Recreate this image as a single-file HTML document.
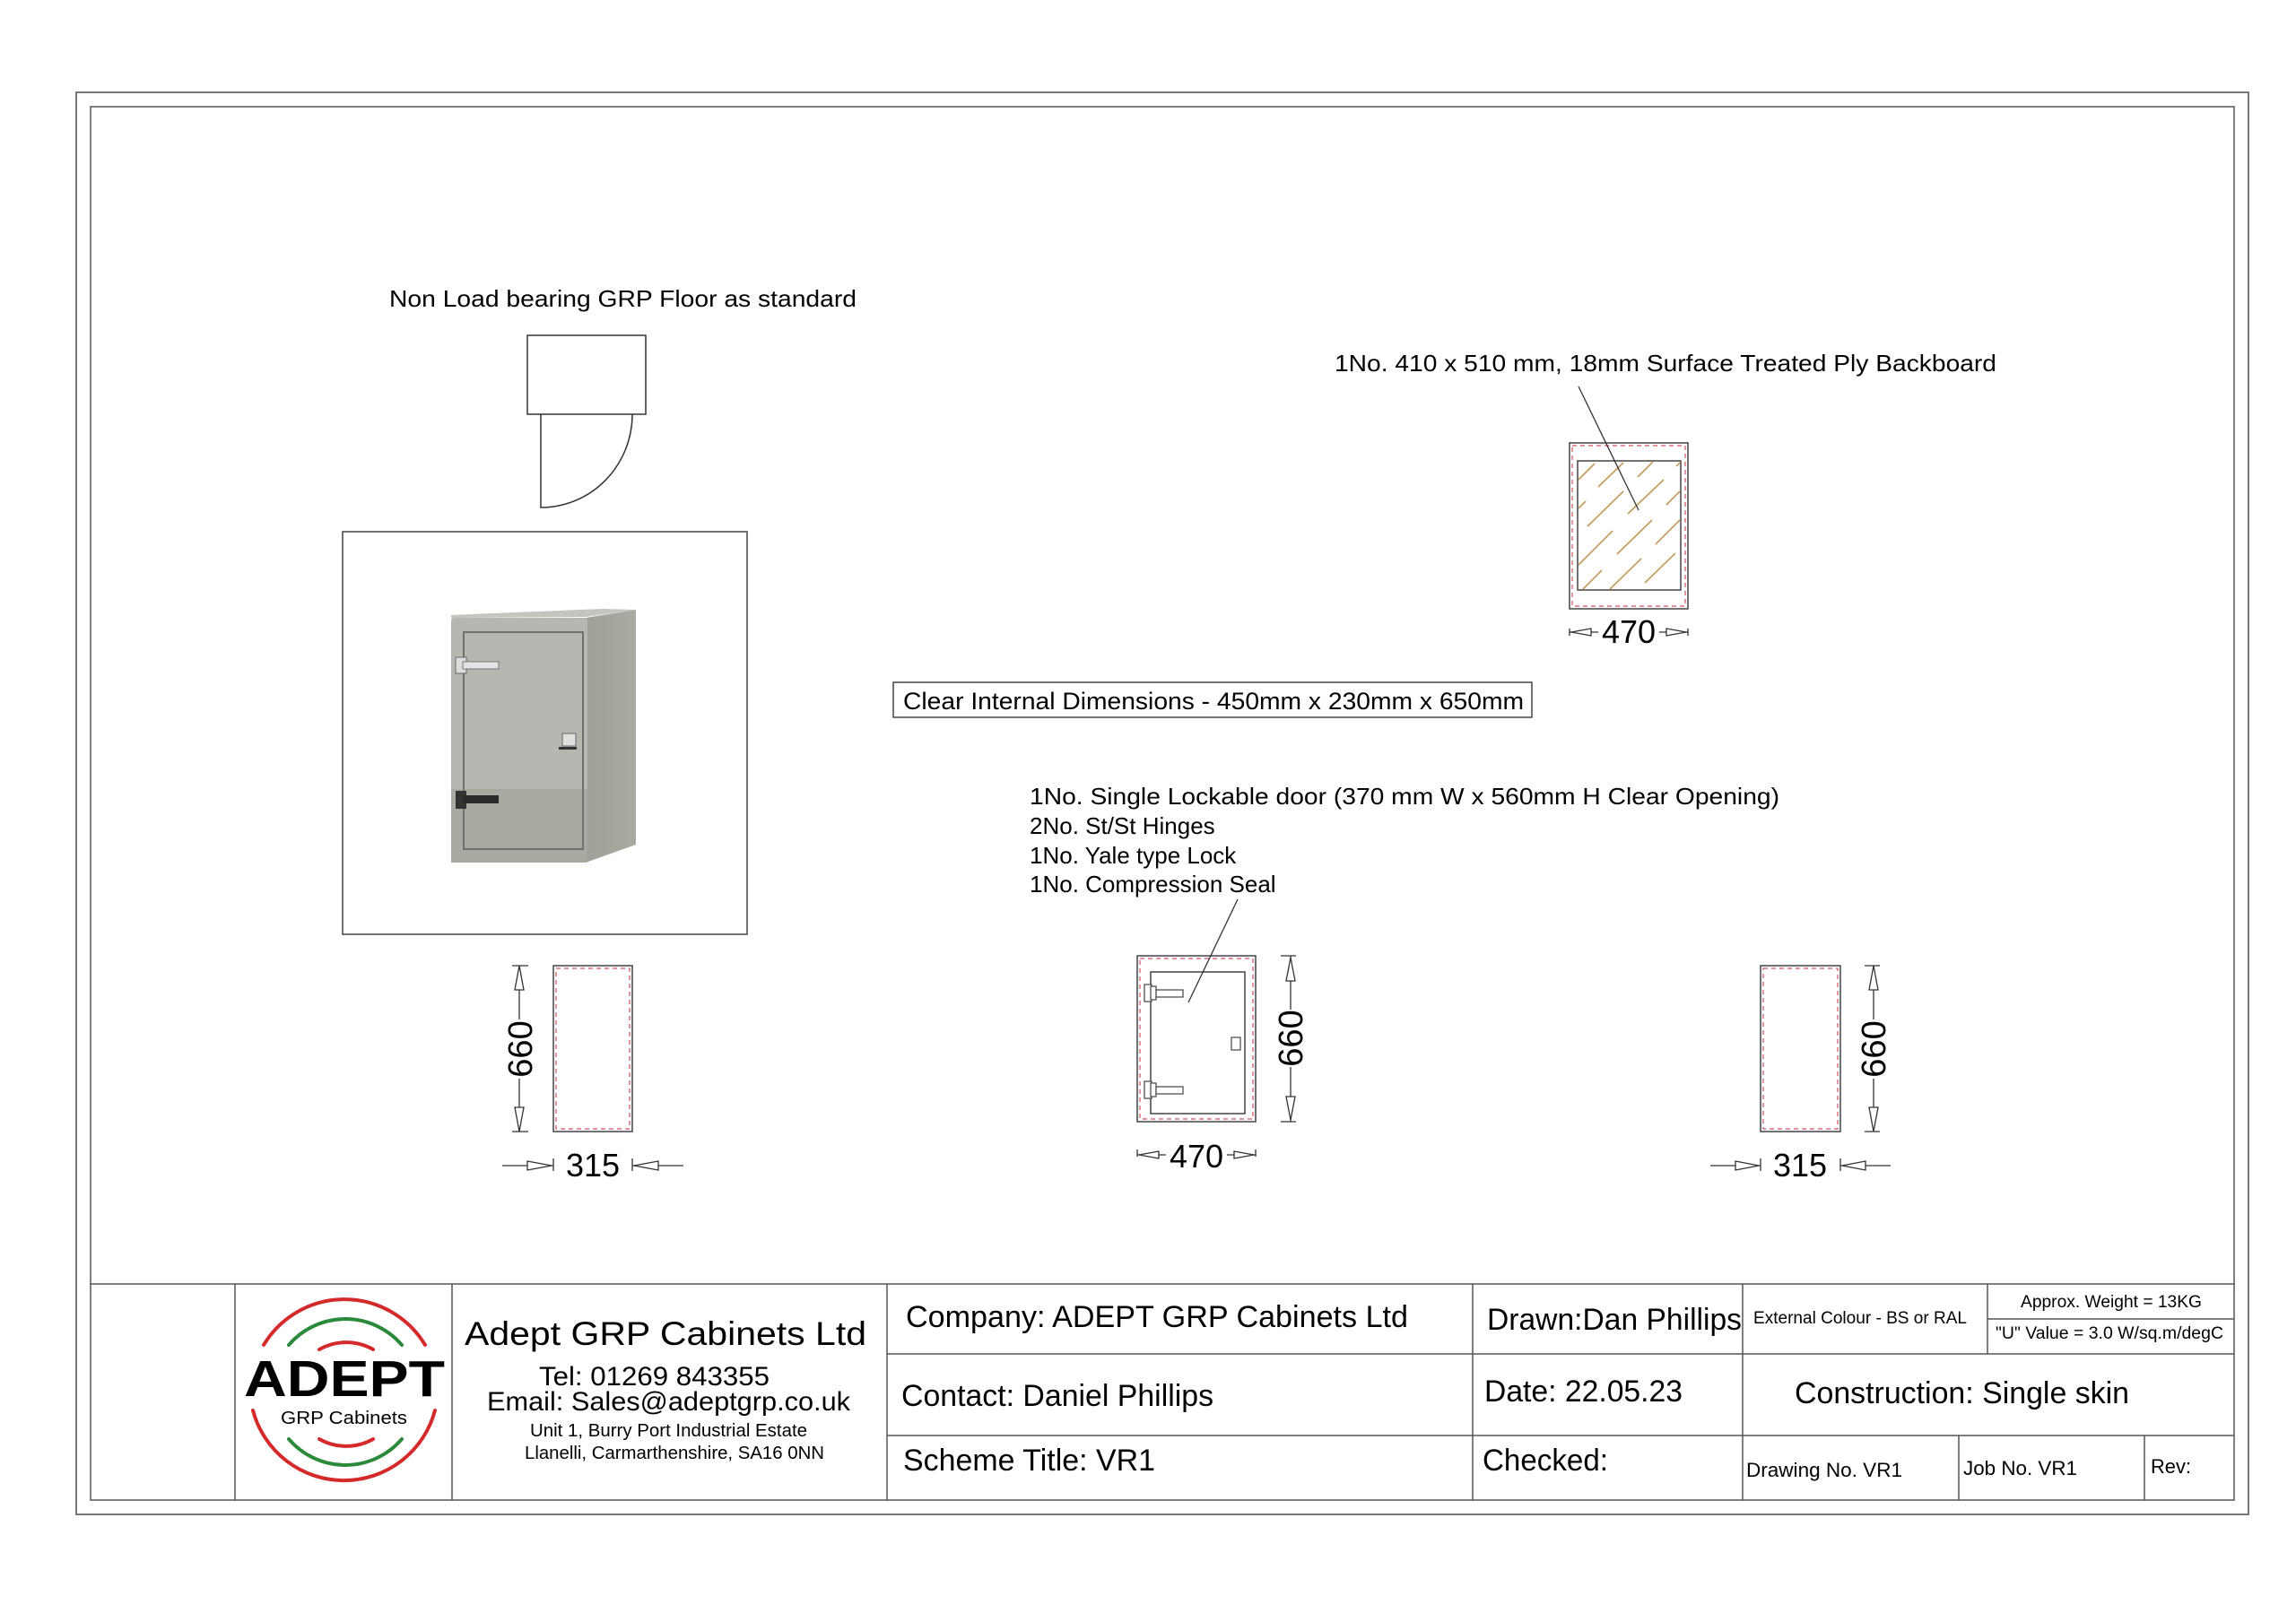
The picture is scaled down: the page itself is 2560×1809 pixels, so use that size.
<!DOCTYPE html>
<html><head><meta charset="utf-8"><style>
html,body{margin:0;padding:0;background:#fff;}
svg{display:block;}
text{font-family:"Liberation Sans",Arial,sans-serif;fill:#000;}
</style></head><body>
<svg width="2560" height="1809" viewBox="0 0 2560 1809" xmlns="http://www.w3.org/2000/svg">
<defs>
<linearGradient id="front" x1="0" y1="0" x2="0" y2="1">
<stop offset="0" stop-color="#b3b5ad"/><stop offset="0.6" stop-color="#b8bab3"/><stop offset="0.62" stop-color="#a9ab a3"/><stop offset="1" stop-color="#a6a89f"/>
</linearGradient>
<linearGradient id="side" x1="0" y1="0" x2="1" y2="0">
<stop offset="0" stop-color="#9fa199"/><stop offset="1" stop-color="#a9aba3"/>
</linearGradient>
</defs>
<!-- frames -->
<rect x="85" y="103" width="2422" height="1586" fill="none" stroke="#777" stroke-width="2"/>
<rect x="101" y="119" width="2390" height="1554" fill="none" stroke="#555" stroke-width="1.5"/>

<!-- title block lines -->
<g stroke="#555" stroke-width="1.5" fill="none">
<line x1="101" y1="1432" x2="2491" y2="1432"/>
<line x1="989" y1="1510" x2="2491" y2="1510"/>
<line x1="989" y1="1601" x2="2491" y2="1601"/>
<line x1="2216" y1="1471" x2="2491" y2="1471"/>
<line x1="262" y1="1432" x2="262" y2="1673"/>
<line x1="504" y1="1432" x2="504" y2="1673"/>
<line x1="989" y1="1432" x2="989" y2="1673"/>
<line x1="1642" y1="1432" x2="1642" y2="1673"/>
<line x1="1943" y1="1432" x2="1943" y2="1673"/>
<line x1="2216" y1="1432" x2="2216" y2="1510"/>
<line x1="2184" y1="1601" x2="2184" y2="1673"/>
<line x1="2391" y1="1601" x2="2391" y2="1673"/>
</g>

<!-- logo -->
<g fill="none" stroke-linecap="round">
<path d="M294 1500 A105 105 0 0 1 474 1500" stroke="#d42a2a" stroke-width="4"/>
<path d="M322 1500 A83 83 0 0 1 448 1500" stroke="#2a8a3a" stroke-width="4"/>
<path d="M356 1505 A61 61 0 0 1 416 1505" stroke="#d42a2a" stroke-width="4"/>
<path d="M282 1573 A105 105 0 0 0 485 1573" stroke="#d42a2a" stroke-width="4"/>
<path d="M322 1605 A83 83 0 0 0 448 1605" stroke="#2a8a3a" stroke-width="4"/>
<path d="M356 1605 A61 61 0 0 0 416 1605" stroke="#d42a2a" stroke-width="4"/>
</g>
<text x="272" y="1557" font-size="57" font-weight="bold" textLength="224" lengthAdjust="spacingAndGlyphs">ADEPT</text>
<text x="313" y="1588" font-size="20" textLength="141" lengthAdjust="spacingAndGlyphs">GRP Cabinets</text>

<text x="518" y="1500" font-size="37" textLength="448" lengthAdjust="spacingAndGlyphs">Adept GRP Cabinets Ltd</text>
<text x="601" y="1545" font-size="30" textLength="257" lengthAdjust="spacingAndGlyphs">Tel: 01269 843355</text>
<text x="543" y="1573" font-size="30" textLength="405" lengthAdjust="spacingAndGlyphs">Email: Sales@adeptgrp.co.uk</text>
<text x="591" y="1602" font-size="20" textLength="309" lengthAdjust="spacingAndGlyphs">Unit 1, Burry Port Industrial Estate</text>
<text x="585" y="1627" font-size="20" textLength="334" lengthAdjust="spacingAndGlyphs">Llanelli, Carmarthenshire, SA16 0NN</text>

<text x="1010" y="1480" font-size="34" textLength="560" lengthAdjust="spacingAndGlyphs">Company: ADEPT GRP Cabinets Ltd</text>
<text x="1005" y="1568" font-size="34" textLength="348" lengthAdjust="spacingAndGlyphs">Contact: Daniel Phillips</text>
<text x="1007" y="1640" font-size="34" textLength="281" lengthAdjust="spacingAndGlyphs">Scheme Title: VR1</text>
<text x="1658" y="1483" font-size="34" textLength="284" lengthAdjust="spacingAndGlyphs">Drawn:Dan Phillips</text>
<text x="1655" y="1563" font-size="34" textLength="221" lengthAdjust="spacingAndGlyphs">Date: 22.05.23</text>
<text x="1653" y="1640" font-size="34" textLength="140" lengthAdjust="spacingAndGlyphs">Checked:</text>
<text x="1955" y="1476" font-size="19" textLength="238" lengthAdjust="spacingAndGlyphs">External Colour - BS or RAL</text>
<text x="2253" y="1458" font-size="19" textLength="202" lengthAdjust="spacingAndGlyphs">Approx. Weight = 13KG</text>
<text x="2225" y="1493" font-size="19" textLength="254" lengthAdjust="spacingAndGlyphs">"U" Value = 3.0 W/sq.m/degC</text>
<text x="2001" y="1565" font-size="34" textLength="373" lengthAdjust="spacingAndGlyphs">Construction: Single skin</text>
<text x="1947" y="1647" font-size="22" textLength="174" lengthAdjust="spacingAndGlyphs">Drawing No. VR1</text>
<text x="2189" y="1645" font-size="22" textLength="127" lengthAdjust="spacingAndGlyphs">Job No. VR1</text>
<text x="2398" y="1643" font-size="22" textLength="45" lengthAdjust="spacingAndGlyphs">Rev:</text>

<!-- top-left: floor note + plan -->
<text x="434" y="342" font-size="26" textLength="521" lengthAdjust="spacingAndGlyphs">Non Load bearing GRP Floor as standard</text>
<g stroke="#333" stroke-width="1.5" fill="none">
<rect x="588" y="374" width="132" height="88"/>
<path d="M603 462 L603 566 A102 104 0 0 0 705 462"/>
</g>

<!-- photo box -->
<rect x="382" y="593" width="451" height="449" fill="none" stroke="#444" stroke-width="1.5"/>
<g>
<polygon points="653,689 709,680 709,942 653,962" fill="url(#side)"/>
<polygon points="503,689 653,688 709,680 672,679 503,686" fill="#c3c5be"/>
<rect x="503" y="689" width="152" height="273" rx="3" fill="#b5b7b0"/>
<rect x="503" y="880" width="152" height="82" fill="#a8aaa2"/>
<rect x="517" y="705" width="133" height="242" fill="none" stroke="#6f716a" stroke-width="2"/>
<rect x="508" y="733" width="12" height="18" fill="#dcdcdc" stroke="#666"/>
<rect x="516" y="738" width="40" height="8" fill="#e4e4e4" stroke="#777"/>
<rect x="508" y="882" width="12" height="20" fill="#333"/>
<rect x="516" y="887" width="40" height="9" fill="#2b2b2b"/>
<rect x="627" y="818" width="15" height="14" fill="#e0e0e0" stroke="#666"/>
<rect x="623" y="833" width="20" height="3" fill="#333"/>
</g>

<!-- left elevation -->
<rect x="617" y="1077" width="88" height="185" fill="none" stroke="#444" stroke-width="1.5"/>
<rect x="620" y="1080" width="82" height="179" fill="none" stroke="#d0505a" stroke-width="1.2" stroke-dasharray="5,4"/>
<g stroke="#333" stroke-width="1.3" fill="#fff">
<line x1="579" y1="1077" x2="579" y2="1137"/><line x1="579" y1="1203" x2="579" y2="1262"/>
<line x1="571" y1="1077" x2="589" y2="1077"/><line x1="571" y1="1262" x2="589" y2="1262"/>
<polygon points="579,1077 574,1104 584,1104"/><polygon points="579,1262 574,1235 584,1235"/>
<line x1="560" y1="1300" x2="617" y2="1300"/><line x1="617" y1="1292" x2="617" y2="1306"/>
<polygon points="615,1300 588,1295 588,1305"/>
<line x1="705" y1="1300" x2="762" y2="1300"/><line x1="705" y1="1292" x2="705" y2="1306"/>
<polygon points="707,1300 734,1295 734,1305"/>
</g>
<text x="0" y="0" font-size="38" text-anchor="middle" transform="translate(593,1170) rotate(-90)">660</text>
<text x="661" y="1312" font-size="36" text-anchor="middle">315</text>

<!-- center door elevation -->
<rect x="1268" y="1066" width="132" height="185" fill="none" stroke="#444" stroke-width="1.5"/>
<rect x="1271" y="1069" width="126" height="179" fill="none" stroke="#d0505a" stroke-width="1.2" stroke-dasharray="5,4"/>
<rect x="1283" y="1084" width="105" height="158" fill="none" stroke="#444" stroke-width="1.5"/>
<g stroke="#444" stroke-width="1.2" fill="#fff">
<rect x="1276" y="1098" width="8" height="19"/><rect x="1283" y="1100" width="6" height="15"/><rect x="1289" y="1104" width="30" height="8"/>
<rect x="1276" y="1206" width="8" height="19"/><rect x="1283" y="1208" width="6" height="15"/><rect x="1289" y="1212" width="30" height="8"/>
<rect x="1373" y="1157" width="10" height="14"/>
</g>
<line x1="1380" y1="1003" x2="1325" y2="1118" stroke="#333" stroke-width="1.3"/>
<g stroke="#333" stroke-width="1.3" fill="#fff">
<line x1="1439" y1="1066" x2="1439" y2="1126"/><line x1="1439" y1="1190" x2="1439" y2="1251"/>
<line x1="1428" y1="1066" x2="1445" y2="1066"/><line x1="1428" y1="1251" x2="1445" y2="1251"/>
<polygon points="1439,1068 1434,1094 1444,1094"/><polygon points="1439,1249 1434,1223 1444,1223"/>
<line x1="1268" y1="1282" x2="1268" y2="1290"/><line x1="1268" y1="1288" x2="1300" y2="1288"/>
<polygon points="1270,1288 1292,1284 1292,1292"/>
<line x1="1400" y1="1282" x2="1400" y2="1290"/><line x1="1368" y1="1288" x2="1400" y2="1288"/>
<polygon points="1398,1288 1376,1284 1376,1292"/>
</g>
<text x="0" y="0" font-size="38" text-anchor="middle" transform="translate(1452,1158) rotate(-90)">660</text>
<text x="1334" y="1302" font-size="36" text-anchor="middle">470</text>

<!-- notes -->
<g font-size="26">
<text x="1148" y="897" textLength="836" lengthAdjust="spacingAndGlyphs">1No. Single Lockable door (370 mm W x 560mm H Clear Opening)</text>
<text x="1148" y="930">2No. St/St Hinges</text>
<text x="1148" y="963">1No. Yale type Lock</text>
<text x="1148" y="995">1No. Compression Seal</text>
</g>

<!-- clear internal dims -->
<rect x="996" y="761" width="712" height="39" fill="none" stroke="#444" stroke-width="1.5"/>
<text x="1007" y="791" font-size="27" textLength="692" lengthAdjust="spacingAndGlyphs">Clear Internal Dimensions - 450mm x 230mm x 650mm</text>

<!-- backboard -->
<text x="1488" y="414" font-size="26" textLength="738" lengthAdjust="spacingAndGlyphs">1No. 410 x 510 mm, 18mm Surface Treated Ply Backboard</text>
<rect x="1750" y="494" width="132" height="185" fill="none" stroke="#444" stroke-width="1.5"/>
<rect x="1753" y="497" width="126" height="179" fill="none" stroke="#d0505a" stroke-width="1.2" stroke-dasharray="5,4"/>
<rect x="1759" y="514" width="115" height="144" fill="none" stroke="#444" stroke-width="1.5"/>
<g stroke="#c49a5a" stroke-width="1.6">
<line x1="1760" y1="535" x2="1778" y2="517"/>
<line x1="1782" y1="543" x2="1810" y2="516"/>
<line x1="1826" y1="532" x2="1843" y2="515"/>
<line x1="1760" y1="567" x2="1768" y2="559"/>
<line x1="1770" y1="587" x2="1810" y2="548"/>
<line x1="1815" y1="573" x2="1855" y2="535"/>
<line x1="1858" y1="563" x2="1873" y2="548"/>
<line x1="1760" y1="630" x2="1798" y2="592"/>
<line x1="1803" y1="618" x2="1842" y2="580"/>
<line x1="1846" y1="607" x2="1873" y2="580"/>
<line x1="1765" y1="657" x2="1786" y2="636"/>
<line x1="1795" y1="657" x2="1830" y2="623"/>
<line x1="1834" y1="650" x2="1868" y2="617"/>
<line x1="1869" y1="520" x2="1873" y2="516"/>
</g>
<line x1="1760" y1="431" x2="1827" y2="569" stroke="#333" stroke-width="1.3"/>
<g stroke="#333" stroke-width="1.3" fill="#fff">
<line x1="1750" y1="701" x2="1750" y2="709"/><line x1="1750" y1="705" x2="1782" y2="705"/>
<polygon points="1752,705 1774,701 1774,709"/>
<line x1="1882" y1="701" x2="1882" y2="709"/><line x1="1850" y1="705" x2="1882" y2="705"/>
<polygon points="1880,705 1858,701 1858,709"/>
</g>
<text x="1816" y="717" font-size="36" text-anchor="middle">470</text>

<!-- right elevation -->
<rect x="1963" y="1077" width="89" height="185" fill="none" stroke="#444" stroke-width="1.5"/>
<rect x="1966" y="1080" width="83" height="179" fill="none" stroke="#d0505a" stroke-width="1.2" stroke-dasharray="5,4"/>
<g stroke="#333" stroke-width="1.3" fill="#fff">
<line x1="2089" y1="1077" x2="2089" y2="1137"/><line x1="2089" y1="1203" x2="2089" y2="1262"/>
<line x1="2079" y1="1077" x2="2096" y2="1077"/><line x1="2079" y1="1262" x2="2096" y2="1262"/>
<polygon points="2089,1077 2084,1104 2094,1104"/><polygon points="2089,1262 2084,1235 2094,1235"/>
<line x1="1907" y1="1300" x2="1963" y2="1300"/><line x1="1963" y1="1292" x2="1963" y2="1306"/>
<polygon points="1961,1300 1935,1295 1935,1305"/>
<line x1="2052" y1="1300" x2="2108" y2="1300"/><line x1="2052" y1="1292" x2="2052" y2="1306"/>
<polygon points="2054,1300 2080,1295 2080,1305"/>
</g>
<text x="0" y="0" font-size="38" text-anchor="middle" transform="translate(2102,1170) rotate(-90)">660</text>
<text x="2007" y="1312" font-size="36" text-anchor="middle">315</text>
</svg>
</body></html>
